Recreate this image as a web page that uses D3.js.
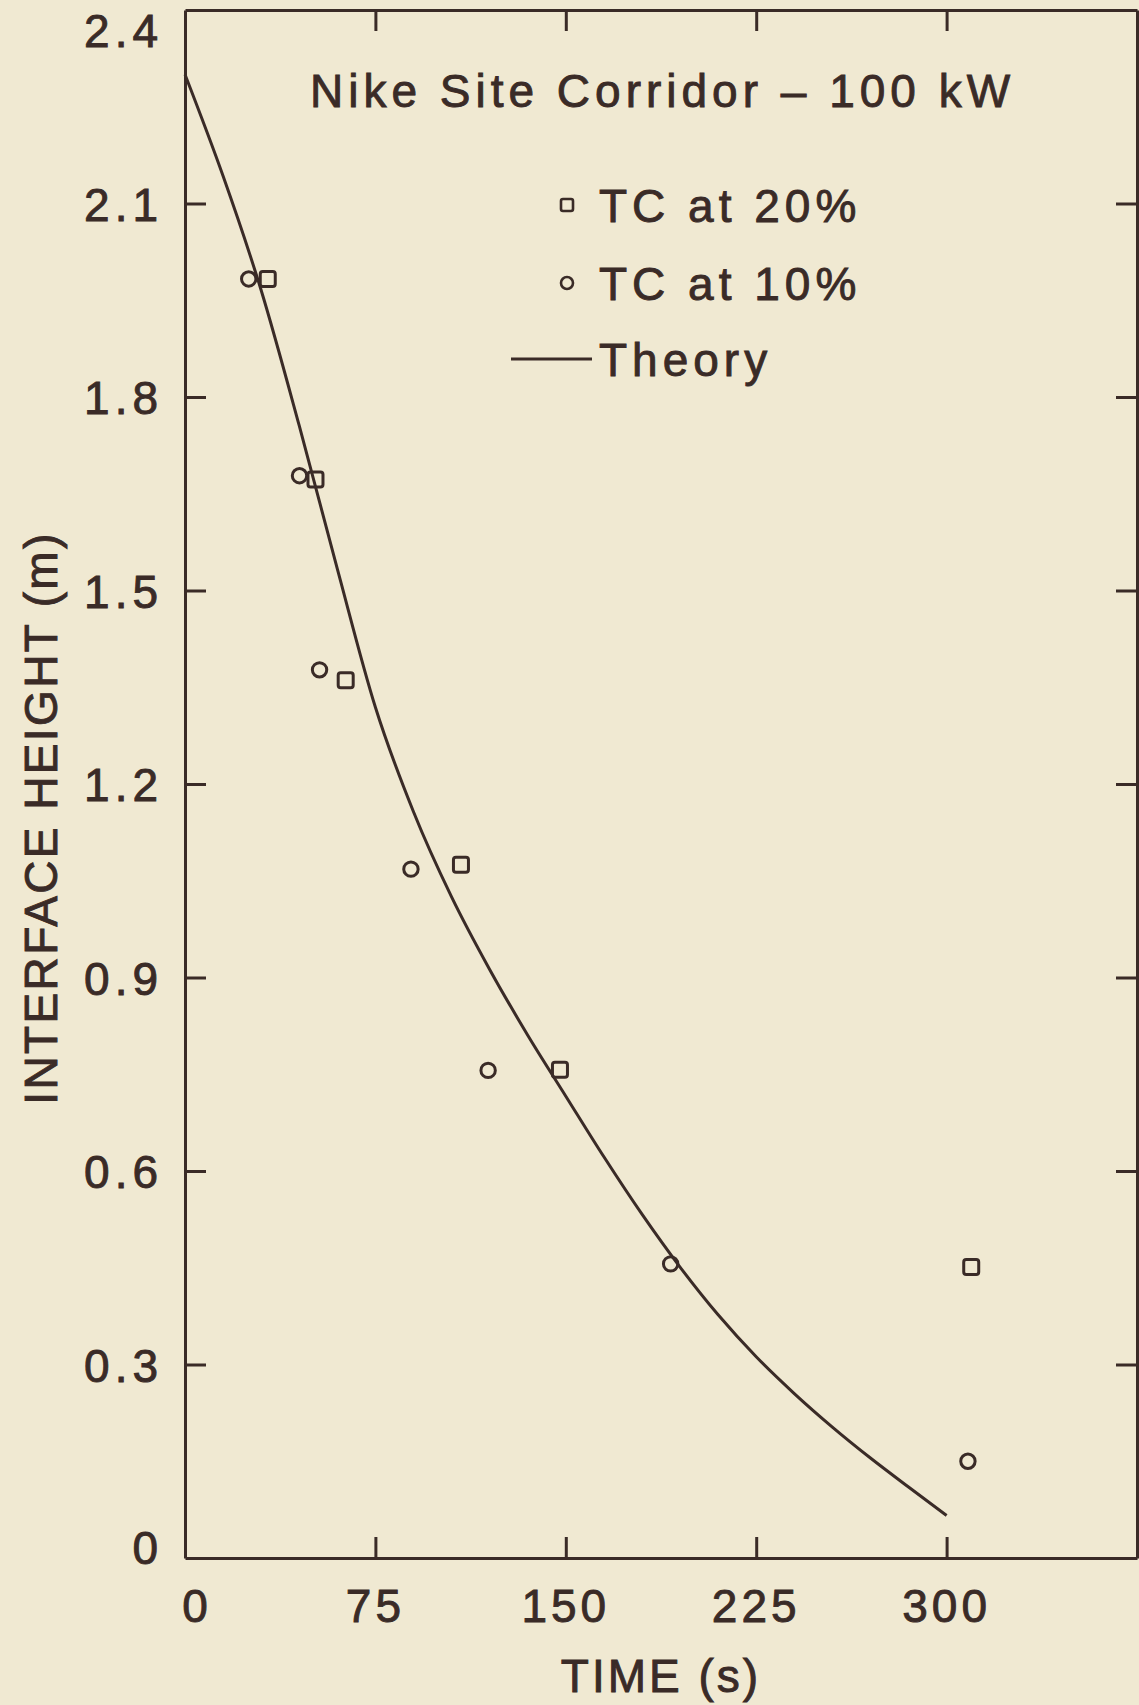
<!DOCTYPE html>
<html>
<head>
<meta charset="utf-8">
<script src="https://cdn.jsdelivr.net/npm/d3@7"></script>
<style>
  html, body { margin: 0; padding: 0; background: #f0e9d2; }
  text { font-family: "Liberation Sans", Arial, Helvetica, sans-serif; fill: #3a2b27; stroke: #3a2b27; stroke-width: 0.9px; }
</style>
</head>
<body>
<div id="chart"></div>
<script>
// values
const timeTicks = [0, 75, 150, 225, 300]
const heightTicks = [0, 0.3, 0.6, 0.9, 1.2, 1.5, 1.8, 2.1, 2.4]
const heightTickLabels = ["0", "0.3", "0.6", "0.9", "1.2", "1.5", "1.8", "2.1", "2.4"]

const tc20Time = [32.6, 51.4, 63.3, 108.7, 147.7, 309.7]
const tc20Height = [1.983, 1.672, 1.361, 1.075, 0.757, 0.451]

const tc10Time = [25.1, 45.1, 53.0, 89.0, 119.4, 191.3, 308.4]
const tc10Height = [1.983, 1.678, 1.377, 1.068, 0.756, 0.456, 0.150]

const theoryTime = [0, 15, 30, 45, 60, 75, 90, 105, 120, 135, 150, 165, 180, 195, 210, 225, 240, 255, 270, 285, 300]
const theoryHeight = [2.30, 2.1425, 1.9655, 1.7555, 1.5335, 1.319, 1.157, 1.025, 0.9125, 0.8105, 0.716, 0.622, 0.533, 0.451, 0.377, 0.312, 0.255, 0.203, 0.155, 0.11, 0.066]

const titleText = "Nike Site Corridor – 100 kW"
const legendLabels = ["TC at 20%", "TC at 10%", "Theory"]

;(function () {
  const width = 1139
  const height = 1705
  const ink = "#3a2b27"

  const svg = d3.select("#chart").append("svg")
      .attr("width", width)
      .attr("height", height)

  svg.append("rect")
    .attr("width", width)
    .attr("height", height)
    .attr("fill", "#f0e9d2")

  const xPositionScale = d3.scaleLinear()
    .domain([0, 375])
    .range([185, 1137])

  const yPositionScale = d3.scaleLinear()
    .domain([0, 2.4])
    .range([1558, 10])

  const frameLeft = xPositionScale(0)
  const frameRight = xPositionScale(375)
  const frameTop = yPositionScale(2.4)
  const frameBottom = yPositionScale(0)

  // inward ticks on all four sides
  const innerX = timeTicks.filter(d => d > 0)
  const innerY = heightTicks.filter(d => d > 0 && d < 2.4)

  svg.append("g")
    .attr("transform", `translate(0,${frameBottom})`)
    .call(d3.axisBottom(xPositionScale).tickValues(innerX).tickSize(-21).tickSizeOuter(0).tickFormat(""))
  svg.append("g")
    .attr("transform", `translate(0,${frameTop})`)
    .call(d3.axisTop(xPositionScale).tickValues(innerX).tickSize(-21).tickSizeOuter(0).tickFormat(""))
  svg.append("g")
    .attr("transform", `translate(${frameLeft},0)`)
    .call(d3.axisLeft(yPositionScale).tickValues(innerY).tickSize(-21).tickSizeOuter(0).tickFormat(""))
  svg.append("g")
    .attr("transform", `translate(${frameRight},0)`)
    .call(d3.axisRight(yPositionScale).tickValues(innerY).tickSize(-21).tickSizeOuter(0).tickFormat(""))

  svg.selectAll(".domain, .tick line")
    .attr("stroke", ink)
    .attr("stroke-width", 3)

  // tick labels
  svg.selectAll(".xlabel")
    .data(timeTicks)
    .join("text")
    .attr("class", "xlabel")
    .attr("x", d => xPositionScale(d) + (d === 0 ? 12 : 0))
    .attr("y", 1622)
    .attr("text-anchor", "middle")
    .attr("font-size", 46)
    .attr("letter-spacing", 4)
    .text(d => d)

  svg.selectAll(".ylabel")
    .data(heightTicks)
    .join("text")
    .attr("class", "ylabel")
    .attr("x", 163)
    .attr("y", d => Math.min(Math.max(yPositionScale(d), 30), 1547) + 17)
    .attr("text-anchor", "end")
    .attr("font-size", 46)
    .attr("letter-spacing", 5)
    .text((d, i) => heightTickLabels[i])

  // axis titles
  svg.append("text")
    .attr("x", 661)
    .attr("y", 1692)
    .attr("text-anchor", "middle")
    .attr("font-size", 46)
    .attr("letter-spacing", 3)
    .text("TIME (s)")

  svg.append("text")
    .attr("transform", "translate(57,818) rotate(-90)")
    .attr("text-anchor", "middle")
    .attr("font-size", 46)
    .attr("letter-spacing", 2.4)
    .text("INTERFACE HEIGHT (m)")

  // theory curve
  const theory = theoryTime.map((t, i) => ({ t: t, h: theoryHeight[i] }))
  const line = d3.line()
    .x(d => xPositionScale(d.t))
    .y(d => yPositionScale(d.h))
    .curve(d3.curveMonotoneX)

  svg.append("path")
    .datum(theory)
    .attr("d", line)
    .attr("fill", "none")
    .attr("stroke", ink)
    .attr("stroke-width", 3)

  // measured points
  const tc20 = tc20Time.map((t, i) => ({ t: t, h: tc20Height[i] }))
  const tc10 = tc10Time.map((t, i) => ({ t: t, h: tc10Height[i] }))

  svg.selectAll(".sq")
    .data(tc20)
    .join("rect")
    .attr("class", "sq")
    .attr("x", d => xPositionScale(d.t) - 7.5)
    .attr("y", d => yPositionScale(d.h) - 7.5)
    .attr("width", 15)
    .attr("height", 15)
    .attr("rx", 2.5)
    .attr("fill", "none")
    .attr("stroke", ink)
    .attr("stroke-width", 3)

  svg.selectAll(".ci")
    .data(tc10)
    .join("circle")
    .attr("class", "ci")
    .attr("cx", d => xPositionScale(d.t))
    .attr("cy", d => yPositionScale(d.h))
    .attr("r", 7.2)
    .attr("fill", "none")
    .attr("stroke", ink)
    .attr("stroke-width", 3)

  // title and legend
  svg.append("text")
    .attr("x", 310)
    .attr("y", 107)
    .attr("font-size", 46)
    .attr("letter-spacing", 5)
    .text(titleText)

  const legendY = [205, 283, 359]
  svg.append("rect")
    .attr("x", 561)
    .attr("y", legendY[0] - 6)
    .attr("width", 12)
    .attr("height", 12)
    .attr("rx", 2)
    .attr("fill", "none")
    .attr("stroke", ink)
    .attr("stroke-width", 2.6)
  svg.append("circle")
    .attr("cx", 567)
    .attr("cy", legendY[1])
    .attr("r", 6)
    .attr("fill", "none")
    .attr("stroke", ink)
    .attr("stroke-width", 2.6)
  svg.append("line")
    .attr("x1", 511)
    .attr("x2", 592)
    .attr("y1", legendY[2])
    .attr("y2", legendY[2])
    .attr("stroke", ink)
    .attr("stroke-width", 3)

  svg.selectAll(".legend")
    .data(legendLabels)
    .join("text")
    .attr("class", "legend")
    .attr("x", 599)
    .attr("y", (d, i) => legendY[i] + 17)
    .attr("font-size", 46)
    .attr("letter-spacing", 5)
    .text(d => d)
})()
</script>
</body>
</html>
